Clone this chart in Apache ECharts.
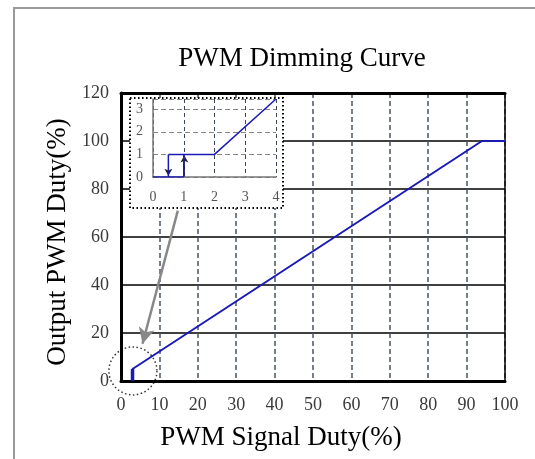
<!DOCTYPE html>
<html><head><meta charset="utf-8">
<script src="https://cdn.jsdelivr.net/npm/echarts@6/dist/echarts.min.js"></script>
<style>html,body{margin:0;padding:0;background:#fff}#c{width:535px;height:459px}</style>
</head><body><div id="c"></div>
<script>
// Main curve
const mainX = [3, 3, 94, 100];
const mainY = [0, 5, 100, 100];
// Inset (zoomed 0-4 %)
const insetX = [0, 1, 1, 2, 4];
const insetY = [0, 0, 1, 1, 3.45];
const insetLoopX = [0.5, 0.5];
const insetLoopY = [1, 0];
const xTicks = [0,10,20,30,40,50,60,70,80,90,100];
const yTicks = [0,20,40,60,80,100,120];

const serif = '"Liberation Serif","DejaVu Serif",serif';
const chart = echarts.init(document.getElementById('c'));
const pair = (xs, ys) => xs.map((x, i) => [x, ys[i]]);

chart.setOption({
  animation: false,
  backgroundColor: '#fff',
  grid: [
    {left: 121, right: 30, top: 93, bottom: 78},
    {left: 153, right: 259, top: 99, bottom: 282}
  ],
  xAxis: [
    {gridIndex: 0, type: 'value', min: 0, max: 100, interval: 10,
     axisLine: {show: true, lineStyle: {color: '#000', width: 3}},
     axisTick: {show: false},
     axisLabel: {fontFamily: serif, fontSize: 18, color: '#3a3a3a', margin: 15},
     splitLine: {show: true, lineStyle: {color: '#4a5563', width: 1.5, type: [5, 3]}}},
    {gridIndex: 0, type: 'value', position: 'top', min: 0, max: 100,
     axisLine: {show: true, onZero: false, lineStyle: {color: '#000', width: 3}},
     axisTick: {show: false}, axisLabel: {show: false}, splitLine: {show: false}},
    {gridIndex: 1, type: 'value', min: 0, max: 4, interval: 1, z: 10,
     axisLine: {show: true, lineStyle: {color: '#777', width: 1.5}},
     axisTick: {show: false},
     axisLabel: {fontFamily: serif, fontSize: 14, color: '#555', margin: 13},
     splitLine: {show: true, lineStyle: {color: '#3c4656', width: 1, type: [4, 3]}}}
  ],
  yAxis: [
    {gridIndex: 0, type: 'value', min: 0, max: 120, interval: 20,
     axisLine: {show: true, lineStyle: {color: '#000', width: 3}},
     axisTick: {show: false},
     axisLabel: {fontFamily: serif, fontSize: 18, color: '#3a3a3a', margin: 12},
     splitLine: {show: true, lineStyle: {color: '#000', width: 1.5}}},
    {gridIndex: 0, type: 'value', position: 'right', min: 0, max: 120,
     axisLine: {show: true, onZero: false, lineStyle: {color: '#000', width: 1.5}},
     axisTick: {show: false}, axisLabel: {show: false}, splitLine: {show: false}},
    {gridIndex: 1, type: 'value', min: 0, max: 3.45, interval: 1, z: 10,
     axisLine: {show: true, lineStyle: {color: '#777', width: 1.5}},
     axisTick: {show: false},
     axisLabel: {fontFamily: serif, fontSize: 14, color: '#555', margin: 10, showMaxLabel: false},
     splitLine: {show: true, lineStyle: {color: '#888', width: 1, type: [5, 3]}}}
  ],
  graphic: [
    {type: 'rect', shape: {x: 14, y: 8, width: 540, height: 470}, style: {fill: 'none', stroke: '#9a9a9a', lineWidth: 2}, z: 1},
    {type: 'rect', shape: {x: 130, y: 98, width: 153, height: 110}, style: {fill: '#fff', stroke: '#000', lineWidth: 2, lineDash: [1.5, 2.5]}, z: 5},
    {type: 'text', style: {text: 'PWM Dimming Curve', x: 302, y: 59, align: 'center', verticalAlign: 'middle', font: '27px ' + serif, fill: '#000'}},
    {type: 'text', style: {text: 'PWM Signal Duty(%)', x: 281, y: 438, align: 'center', verticalAlign: 'middle', font: '27px ' + serif, fill: '#000'}},
    {type: 'text', x: 58, y: 242, rotation: Math.PI / 2, style: {text: 'Output PWM Duty(%)', x: 0, y: 0, align: 'center', verticalAlign: 'middle', font: '27px ' + serif, fill: '#000'}}
  ],
  series: [
    {type: 'line', xAxisIndex: 0, yAxisIndex: 0, data: pair(mainX, mainY), symbol: 'none', z: 3,
     lineStyle: {color: '#1a1ab8', width: 2},
     markLine: {silent: true, symbol: ['none', 'arrow'], symbolSize: [12, 16], label: {show: false},
       lineStyle: {color: '#888', width: 2.5, type: 'solid'},
       data: [[{coord: [14.8, 71]}, {coord: [5.6, 15.5]}]]}},
    {type: 'line', xAxisIndex: 0, yAxisIndex: 0, data: [[3, 0], [3, 5]], symbol: 'none', z: 3,
     lineStyle: {color: '#1a1ab8', width: 3.5}},
    {type: 'scatter', xAxisIndex: 0, yAxisIndex: 0, data: [[3.1, 4.2]], symbol: 'circle', symbolSize: 48, z: 3,
     itemStyle: {color: 'rgba(0,0,0,0)', borderColor: '#000', borderWidth: 1.5, borderType: [1.5, 2.5]}},
    {type: 'line', xAxisIndex: 2, yAxisIndex: 2, data: pair(insetX, insetY), symbol: 'none', z: 12,
     lineStyle: {color: '#1a1ab8', width: 1.5},
     markLine: {silent: true, symbol: ['none', 'arrow'], symbolSize: [6, 7], label: {show: false},
       lineStyle: {color: '#222', width: 1, type: 'solid'},
       data: [
         [{coord: [0.5, 0.95]}, {coord: [0.5, 0.05]}],
         [{coord: [1.02, 0.05]}, {coord: [1.02, 0.95]}]
       ]}},
    {type: 'line', xAxisIndex: 2, yAxisIndex: 2, data: pair(insetLoopX, insetLoopY), symbol: 'none', z: 12,
     lineStyle: {color: '#1a1ab8', width: 1.5}},
    {type: 'line', xAxisIndex: 2, yAxisIndex: 2, data: [[0.5, 1], [1, 1]], symbol: 'none', z: 12,
     lineStyle: {color: '#1a1ab8', width: 1.5}}
  ]
});
</script></body></html>
